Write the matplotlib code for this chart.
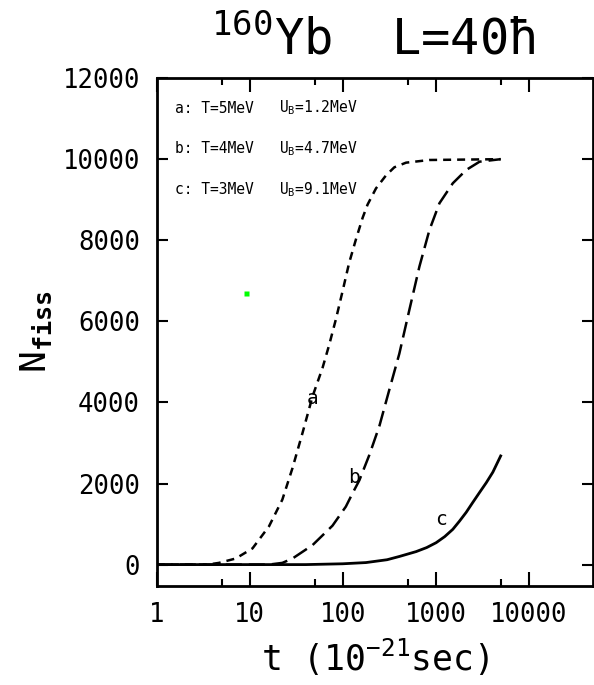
import matplotlib
matplotlib.use("Agg")
import matplotlib.pyplot as plt
from matplotlib.ticker import FixedLocator, NullFormatter

plt.rcParams["font.family"] = ["DejaVu Sans Mono", "DejaVu Sans"]
plt.rcParams["mathtext.fontset"] = "custom"
plt.rcParams["mathtext.rm"] = "DejaVu Sans Mono"
plt.rcParams["mathtext.it"] = "DejaVu Sans Mono"
plt.rcParams["mathtext.bf"] = "DejaVu Sans Mono:bold"
plt.rcParams["mathtext.default"] = "regular"

# curve a: T=5MeV, U_B=1.2MeV
t_a = [1, 3.5, 4.66, 7.06, 10.7, 16.1, 22.4, 28.8, 36.9, 47.3, 60.6, 71.5, 84.6,
       99.5, 117, 139, 164, 185, 228, 292, 359, 480, 857, 5000]
n_a = [0, 0, 42, 150, 400, 944, 1602, 2380, 3245, 4147, 4850, 5420, 6060,
       6740, 7435, 8030, 8560, 8880, 9280, 9600, 9800, 9914, 9980, 10000]

# curve b: T=4MeV, U_B=4.7MeV
t_b = [1, 16, 22.4, 28.8, 47.3, 77.6, 108, 128, 151, 193, 248, 317, 406, 521,
       668, 857, 1097, 1528, 2130, 2965, 5000]
n_b = [0, 0, 42, 150, 480, 960, 1430, 1767, 2080, 2700, 3420, 4312, 5200, 6284,
       7351, 8255, 8913, 9406, 9734, 9938, 10000]

# curve c: T=3MeV, U_B=9.1MeV
t_c = [1, 40, 100, 178, 300, 406, 615, 800, 1011, 1250, 1528, 1800, 2130, 2500,
       2965, 3500, 4120, 5000]
n_c = [0, 0, 20, 50, 120, 200, 320, 420, 540, 690, 870, 1070, 1290, 1530,
       1780, 2020, 2280, 2680]

legend_lines = ["a: T=5MeV", "b: T=4MeV", "c: T=3MeV"]
legend_ub = ["U$_B$=1.2MeV", "U$_B$=4.7MeV", "U$_B$=9.1MeV"]

xticks = [1, 10, 100, 1000, 10000]
xtick_labels = ["1", "10", "100", "1000", "10000"]
xminor = [5, 50, 500, 5000]
yticks = [0, 2000, 4000, 6000, 8000, 10000, 12000]

fig = plt.figure(figsize=(5.94, 6.85), dpi=100)
ax = fig.add_axes([0.264, 0.145, 0.734, 0.741])

ax.plot(t_a, n_a, color="black", lw=1.8, dashes=(3.2, 2.4))
ax.plot(t_b, n_b, color="black", lw=1.8, dashes=(6.4, 2.8))
ax.plot(t_c, n_c, color="black", lw=2.0)

# stray green point in the original
ax.plot([9.04], [6710], "s", color="#00ff00", ms=3.6, mec="none")

ax.set_xscale("log")
ax.set_xlim(1, 49000)
ax.set_ylim(-520, 12000)

ax.xaxis.set_major_locator(FixedLocator(xticks))
ax.set_xticklabels(xtick_labels)
ax.xaxis.set_minor_locator(FixedLocator(xminor))
ax.xaxis.set_minor_formatter(NullFormatter())
ax.set_yticks(yticks)

ax.tick_params(which="both", direction="in", top=True, right=True, width=1.5, labelsize=18.5)
ax.tick_params(axis="x", which="major", length=10)
ax.tick_params(axis="x", which="minor", length=5)
ax.tick_params(axis="y", which="major", length=8)
ax.tick_params(axis="x", pad=12)
ax.tick_params(axis="y", pad=12)
for s in ax.spines.values():
    s.set_linewidth(2)

# legend text
for i in range(3):
    y = 11260 - i * 1000
    ax.text(1.58, y, legend_lines[i], fontsize=10.5, va="center")
    ax.text(20.5, y, legend_ub[i], fontsize=10.5, va="center")

ax.text(47.3, 4108, "a", fontsize=14, ha="center", va="center")
ax.text(133, 2137, "b", fontsize=14, ha="center", va="center")
ax.text(1140, 1109, "c", fontsize=14, ha="center", va="center")

ax.set_xlabel("t (10$^{-21}$sec)", fontsize=25, labelpad=6)
ax.set_ylabel("N$_{\\mathbf{fiss}}$", fontsize=26, labelpad=6)
fig.text(0.629, 1 - 40 / 685, "$^{160}$Yb  L=40\u0127", fontsize=35,
         ha="center", va="center")

fig.savefig("out.png", dpi=100)
